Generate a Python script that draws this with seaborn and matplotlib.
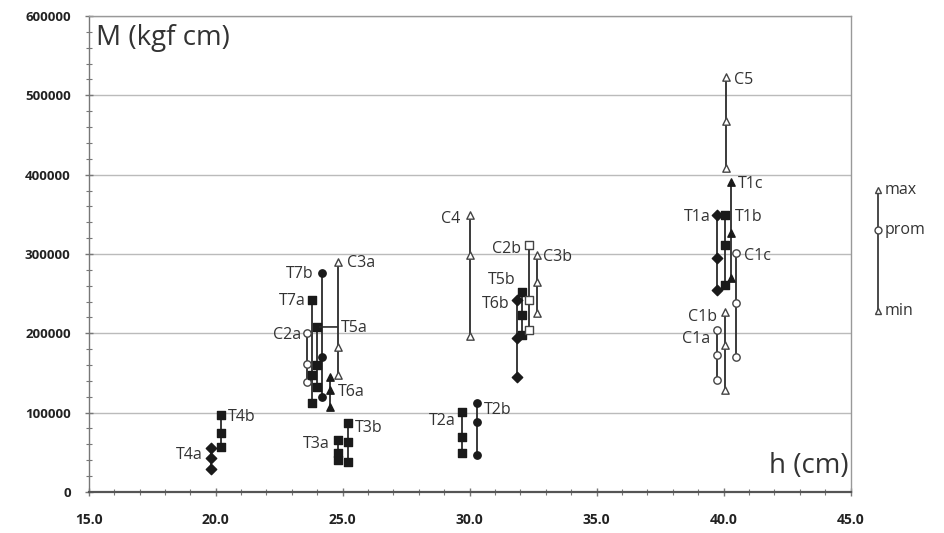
import numpy as np
import pandas as pd
import seaborn as sns
import matplotlib.pyplot as plt

# series: label, h (cm), max / prom / min moment (kgf cm)
series = ['T4a', 'T4b', 'T3a', 'T3b', 'T2a', 'T2b', 'C4',
          'C2a', 'T7a', 'T5a', 'T7b', 'T6a', 'C3a',
          'T6b', 'T5b', 'C2b', 'C3b',
          'T1a', 'T1b', 'T1c', 'C1a', 'C1b', 'C1c', 'C5']
h = [19.8, 20.2, 24.8, 25.2, 29.7, 30.3, 30.0,
     23.6, 23.8, 24.0, 24.2, 24.5, 24.8,
     31.85, 32.05, 32.35, 32.65,
     39.75, 40.05, 40.3, 39.75, 40.05, 40.5, 40.1]
m_max = [55000, 97000, 66000, 87000, 101000, 112000, 349000,
         200000, 242000, 208000, 276000, 145000, 290000,
         242000, 252000, 311000, 299000,
         349000, 349000, 391000, 204000, 227000, 301000, 523000]
m_prom = [43000, 74000, 49000, 63000, 69000, 88000, 299000,
          161000, 148000, 160000, 170000, 129000, 183000,
          194000, 223000, 242000, 265000,
          295000, 311000, 327000, 173000, 185000, 238000, 467000]
m_min = [29000, 57000, 40000, 38000, 49000, 47000, 197000,
         138000, 112000, 132000, 120000, 107000, 148000,
         145000, 198000, 204000, 226000,
         255000, 261000, 270000, 141000, 129000, 170000, 409000]

# styles
markers = ['D', 's', 's', 's', 's', 'o', '^',
           'o', 's', 's', 'o', '^', '^',
           'D', 's', 's', '^',
           'D', 's', '^', 'o', '^', 'o', '^']
# label offsets in pixels relative to the max marker
lab_off = {'T4a': (-8, -7), 'T4b': (7, -2), 'T3a': (-8, -4), 'T3b': (7, -5),
           'T2a': (-6, -9), 'T2b': (7, -7), 'C4': (-9, -4),
           'C2a': (-6, -2), 'T7a': (-7, -1), 'T5a': (24, -1), 'T7b': (-9, -1),
           'T6a': (8, -15), 'C3a': (9, -1),
           'T6b': (-7, -4), 'T5b': (-6, 12), 'C2b': (-8, -4), 'C3b': (6, -2),
           'T1a': (-7, -2), 'T1b': (10, -2), 'T1c': (7, -2),
           'C1a': (-7, -9), 'C1b': (-8, -5), 'C1c': (8, -3), 'C5': (8, -3)}

df = pd.DataFrame({'serie': series, 'h': h, 'max': m_max,
                   'prom': m_prom, 'min': m_min, 'marker': markers})
long = df.melt(id_vars=['serie', 'h', 'marker'], value_vars=['max', 'prom', 'min'],
               var_name='stat', value_name='M')

sns.set_style('white')
plt.rcParams['font.family'] = ['Open Sans', 'DejaVu Sans']

fig = plt.figure(figsize=(9.44, 5.33), dpi=100)
ax = fig.add_axes([0.094, 0.077, 0.807, 0.893])

for _, r in df.iterrows():
    filled = r['serie'].startswith('T')
    ax.vlines(r['h'], r['min'], r['max'], color='#2b2b2b', lw=1.3, zorder=2)
    pts = long[long['serie'] == r['serie']]
    sns.scatterplot(data=pts, x='h', y='M', ax=ax, marker=r['marker'], s=28,
                    color='#1a1a1a' if filled else 'white',
                    edgecolor='#1a1a1a' if filled else '#444444',
                    linewidth=1.0, zorder=3, legend=False)
    dx, dy = lab_off[r['serie']]
    ax.annotate(r['serie'], (r['h'], r['max']), xytext=(dx, dy),
                textcoords='offset pixels', fontsize=11.5, color='#333333',
                ha='left' if dx > 0 else 'right', va='center', zorder=4)

# leader line of T5a label
r5 = df[df['serie'] == 'T5a'].iloc[0]
ax.annotate('', (r5['h'], r5['max']), xytext=(r5['h'] + 0.9, r5['max']),
            arrowprops=dict(arrowstyle='-', color='#2b2b2b', lw=1.2))

ax.set_xlim(15, 45)
ax.set_ylim(0, 600000)
ax.set_xticks(np.arange(15, 45.1, 5))
ax.set_xticks(np.arange(15, 45.1, 1), minor=True)
ax.set_yticks(np.arange(0, 600001, 100000))
ax.set_yticks(np.arange(0, 600001, 20000), minor=True)
ax.set_xticklabels([f'{v:.1f}' for v in np.arange(15, 45.1, 5)],
                   fontsize=10, fontweight='bold', color='#222222')
ax.set_yticklabels([f'{v:d}' for v in range(0, 600001, 100000)],
                   fontsize=9.5, fontweight='bold', color='#222222')
ax.tick_params(axis='both', which='both', direction='inout', color='#777777',
               bottom=True, left=True)
ax.tick_params(axis='both', which='major', length=6, width=1.0)
ax.tick_params(axis='x', which='major', pad=12)
ax.tick_params(axis='y', which='major', pad=10)
ax.tick_params(axis='both', which='minor', length=4, width=0.8)
ax.set_xlabel('')
ax.set_ylabel('')
ax.yaxis.grid(True, color='#bbbbbb', lw=1.0)
ax.set_axisbelow(True)
for sp in ax.spines.values():
    sp.set_color('#999999')
    sp.set_linewidth(1.0)
ax.spines['bottom'].set_color('#555555')
ax.spines['bottom'].set_linewidth(1.6)
ax.spines['left'].set_color('#777777')

ax.text(0.01, 0.953, 'M (kgf cm)', transform=ax.transAxes, fontsize=20,
        color='#333333', ha='left', va='center')
ax.text(0.997, 0.055, 'h (cm)', transform=ax.transAxes, fontsize=20,
        color='#333333', ha='right', va='center')

# key: max / prom / min
key = fig.add_axes([0.921, 0.40, 0.078, 0.262])
key.set_xlim(0, 1)
key.set_ylim(0, 1)
key.axis('off')
key_y = {'max': 0.93, 'prom': 0.64, 'min': 0.065}
key_m = {'max': '^', 'prom': 'o', 'min': '^'}
key.plot([0.11, 0.11], [key_y['min'], key_y['max']], color='#2b2b2b', lw=1.2)
for k, yv in key_y.items():
    key.plot(0.11, yv, marker=key_m[k], ms=5, mfc='white', mec='#444444', mew=1.0)
    key.text(0.2, yv, k, fontsize=11.5, color='#333333', va='center', ha='left')

fig.savefig('out.png', dpi=100)
